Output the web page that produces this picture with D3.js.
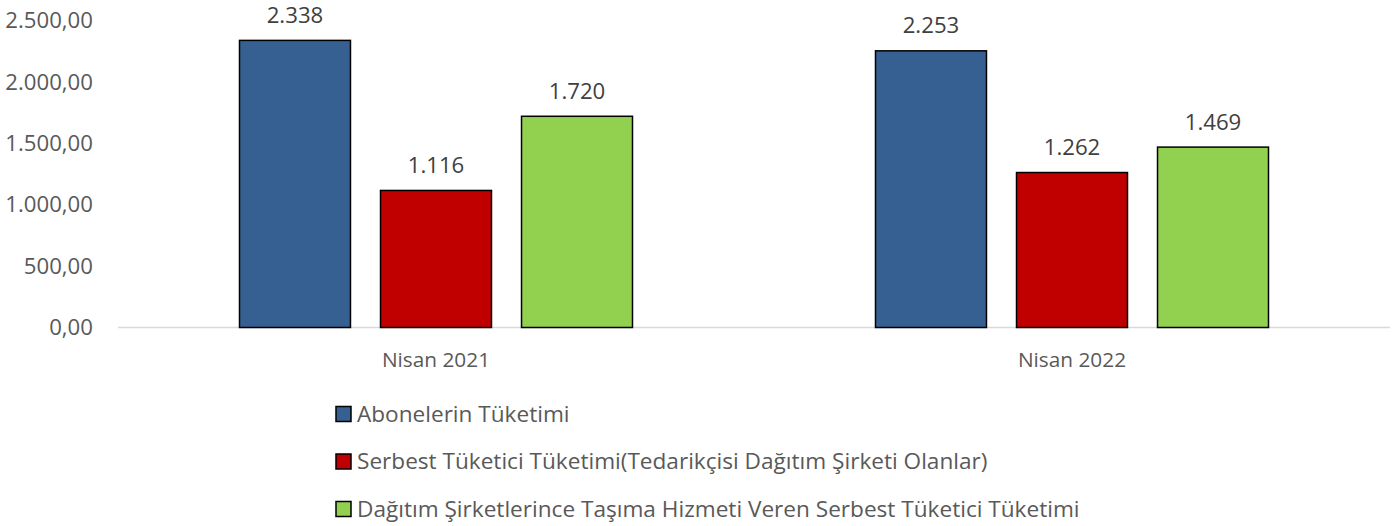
<!DOCTYPE html>
<html><head><meta charset="utf-8">
<script src="https://cdn.jsdelivr.net/npm/d3@7"></script>
<style>body{margin:0;background:#fff}svg{display:block}</style>
</head><body>
<script>
const categories = ["Nisan 2021", "Nisan 2022"];
const seriesNames = ["Abonelerin Tüketimi", "Serbest Tüketici Tüketimi(Tedarikçisi Dağıtım Şirketi Olanlar)", "Dağıtım Şirketlerince Taşıma Hizmeti Veren Serbest Tüketici Tüketimi"];
const aboneler = [2338, 2253];
const serbest = [1116, 1262];
const dagitim = [1720, 1469];
const seriesColors = ["#376092", "#C00000", "#92D050"];
const yTicks = [0, 500, 1000, 1500, 2000, 2500];

const W = 1397, H = 526;
const font = "'Open Sans', 'Noto Sans', sans-serif";
const textColor = "#595959";
const locale = d3.formatLocale({decimal: ",", thousands: ".", grouping: [3], currency: ["", ""]});
const svg = d3.select("body").append("svg").attr("width", W).attr("height", H);

const x0 = d3.scaleBand().domain(categories).range([118, 1390]).paddingInner(0).paddingOuter(0);
const x1 = d3.scaleBand().domain(d3.range(3)).range([121.5, 636 - 121.5]).paddingInner(0.213).paddingOuter(0);
const y = d3.scaleLinear().domain([0, 2500]).range([327.5, 20.5]);

// y axis labels
const yAxis = d3.axisLeft(y).tickValues(yTicks).tickSize(0).tickPadding(0)
  .tickFormat(d => locale.format(",.2f")(d));
const gy = svg.append("g").attr("transform", "translate(93,0)").call(yAxis);
gy.select(".domain").remove();
gy.selectAll("text").attr("font-family", font).attr("font-size", 22.2).attr("fill", textColor);

// x axis baseline
svg.append("line").attr("x1", 118).attr("x2", 1390).attr("y1", y(0)).attr("y2", y(0))
  .attr("stroke", "#d9d9d9").attr("stroke-width", 1.5);

const data = [aboneler, serbest, dagitim];
const groups = svg.selectAll("g.grp").data(categories).enter().append("g")
  .attr("transform", d => `translate(${x0(d)},0)`);

groups.each(function(cat, ci) {
  const g = d3.select(this);
  data.forEach((vals, si) => {
    const v = vals[ci];
    g.append("rect").attr("x", x1(si)).attr("width", x1.bandwidth())
      .attr("y", y(v)).attr("height", y(0) - y(v))
      .attr("fill", seriesColors[si]).attr("stroke", "#000").attr("stroke-width", 1.5);
    g.append("text").attr("x", x1(si) + x1.bandwidth() / 2).attr("y", y(v) - 17.5)
      .attr("text-anchor", "middle").attr("font-family", font).attr("font-size", 22.2)
      .attr("fill", "#404040")
      .text(locale.format(",d")(v));
  });
  g.append("text").attr("x", x0.bandwidth() / 2).attr("y", 367).attr("text-anchor", "middle")
    .attr("font-family", font).attr("font-size", 20.8).attr("fill", textColor).text(cat);
});

// legend
const legY = [414, 461.5, 509];
seriesNames.forEach((name, i) => {
  svg.append("rect").attr("x", 336).attr("y", legY[i] - 7.5).attr("width", 15).attr("height", 15)
    .attr("fill", seriesColors[i]).attr("stroke", "#000").attr("stroke-width", 1.5);
  svg.append("text").attr("x", 357).attr("y", legY[i] + 7.7)
    .attr("font-family", font).attr("font-size", 22.6).attr("fill", textColor).text(name);
});
</script>
</body></html>
